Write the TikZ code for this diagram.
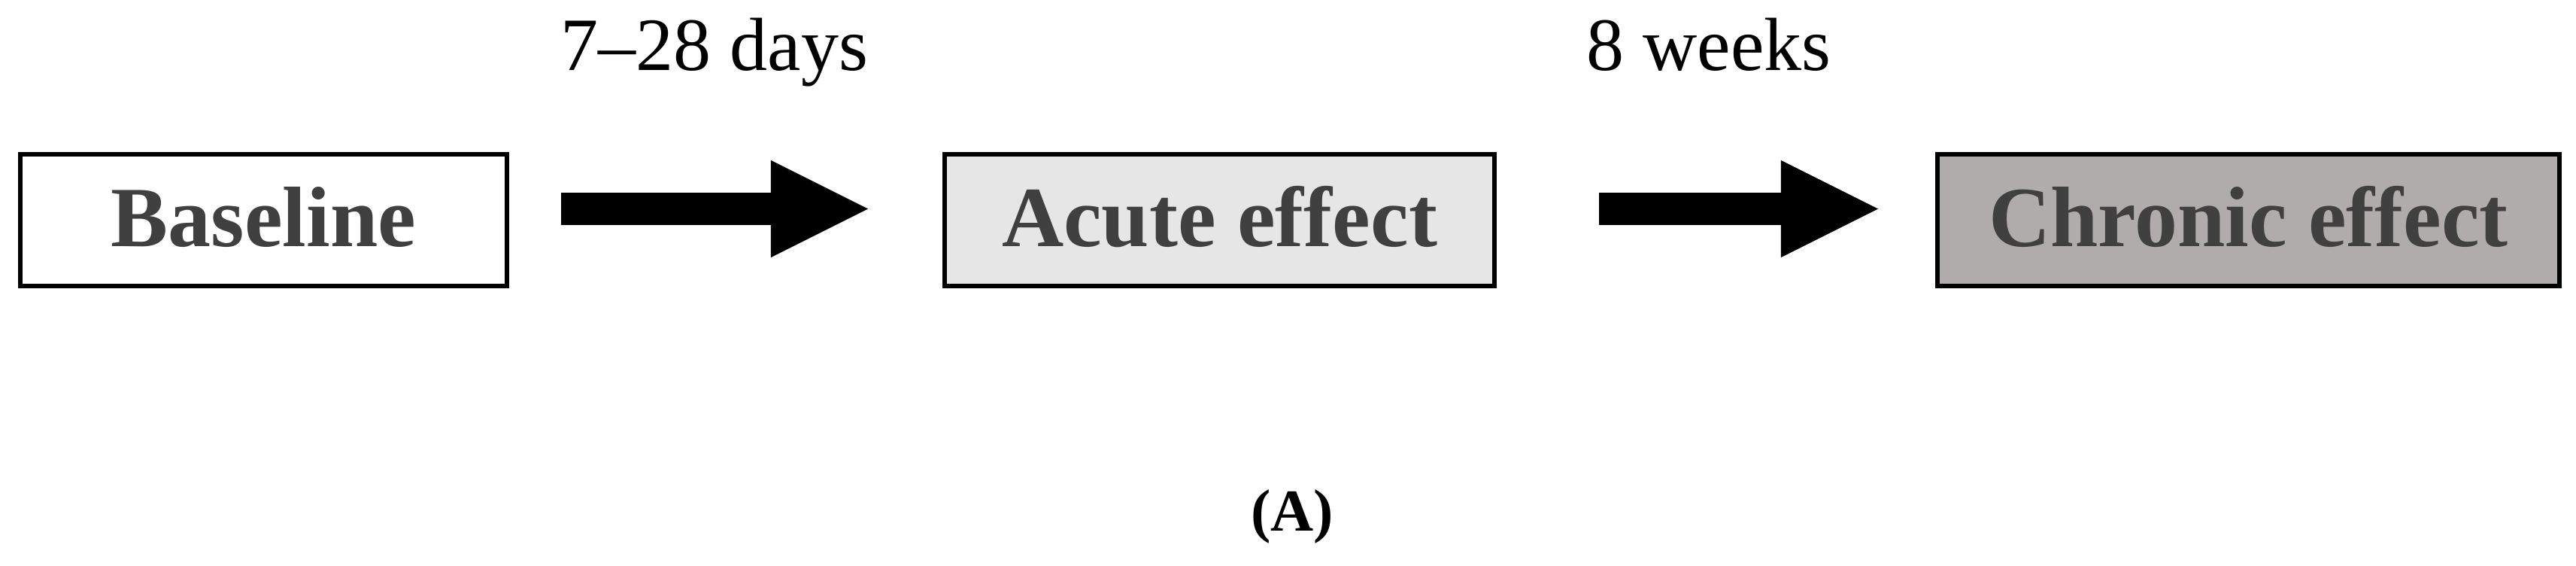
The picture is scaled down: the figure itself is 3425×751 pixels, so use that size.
\documentclass[tikz,border=0pt]{standalone}
\usepackage{fontspec}
\setmainfont{Liberation Serif}
\usetikzlibrary{arrows.meta}
\definecolor{txtgray}{HTML}{404040}
\definecolor{acutefill}{HTML}{E6E6E6}
\definecolor{chronfill}{HTML}{B0ACAB}
\begin{document}
\begin{tikzpicture}[x=0.01cm,y=-0.01cm,
  stagebox/.style={draw=black, line width=0.06cm, inner sep=0pt, minimum height=1.75cm,
    text height=0.75cm, text depth=0.06cm,
    text=txtgray, font=\fontsize{32.4}{36}\selectfont\bfseries},
  blockarrow/.style={line width=0.43cm, -{Triangle[length=1.29cm, width=1.29cm, line width=0pt]}},
  timelabel/.style={anchor=base, inner sep=0pt, font=\fontsize{28.45}{32}\selectfont},
  panellabel/.style={anchor=base, inner sep=0pt, font=\fontsize{22.5}{26}\selectfont\bfseries}]
\useasboundingbox (0,0) rectangle (3425,751);
\node[stagebox, minimum width=6.47cm, fill=white] (base) at (350.5,292.5) {Baseline};
\node[stagebox, minimum width=7.31cm, fill=acutefill] (acute) at (1621.5,292.5) {Acute effect};
\node[stagebox, minimum width=8.27cm, fill=chronfill] (chron) at (2989.5,292.5) {Chronic effect};
\coordinate (a1s) at (746,277.5);
\coordinate (a1e) at (1154,277.5);
\coordinate (a2s) at (2126,277.5);
\coordinate (a2e) at (2497,277.5);
\draw[blockarrow] (a1s) -- (a1e);
\draw[blockarrow] (a2s) -- (a2e);
\node[timelabel] (t1) at (950,93) {7–28 days};
\node[timelabel] (t2) at (2272,93) {8 weeks};
\node[panellabel] (pl) at (1718,705) {(A)};
\end{tikzpicture}
\end{document}
